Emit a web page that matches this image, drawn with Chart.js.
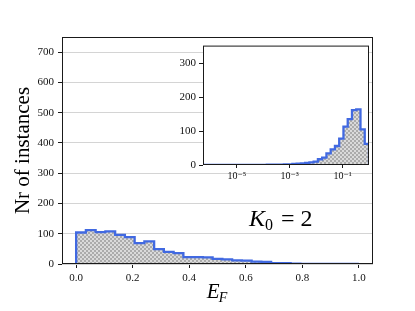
<!DOCTYPE html>
<html><head><meta charset="utf-8">
<script src="https://cdn.jsdelivr.net/npm/chart.js@4.4.1/dist/chart.umd.min.js"></script>
<style>
html,body{margin:0;padding:0;background:#fff;}
#wrap{position:relative;width:415px;height:311px;overflow:hidden;}
#main{position:absolute;left:0;top:0;}
#inset{position:absolute;left:170px;top:36px;}
</style></head><body>
<div id="wrap">
<canvas id="main" width="415" height="311"></canvas>
<canvas id="inset" width="205" height="154"></canvas>
</div>
<script>
// ---- data ----
const mainBinCount = 29;
const mainBinStart = 0.0;
const mainBinEnd = 1.0;
const mainCounts = [104,112,105,108,96,89,69,75,49,40,36,23,23,22,17,15,12,11,8,7,3,3,1,0,0,0,0,0,0];
const mainXTicks = [0.0,0.2,0.4,0.6,0.8,1.0];
const mainXTickLabels = ['0.0','0.2','0.4','0.6','0.8','1.0'];
const mainYTicks = [0,100,200,300,400,500,600,700];
const mainYTickLabels = ['0','100','200','300','400','500','600','700'];

const insetLogStart = -6.28;
const insetLogEnd = 0.0;
const insetCounts = [0,0,0,0,0,0,0,0,0,0,0,0,0,0,0,1,1,1,1,2,2,3,4,5,6,8,10,17,22,34,46,56,78,113,135,162,164,105,62];
const insetXTicks = [1e-5,1e-3,1e-1];
const insetXTickLabels = ['10\u207B\u2075','10\u207B\u00B3','10\u207B\u00B9'];
const insetYTicks = [0,100,200,300];
const insetYTickLabels = ['0','100','200','300'];

// ---- helpers ----
function stepPoints(edges, counts){
  const pts=[{x:edges[0],y:0}];
  counts.forEach((c,i)=>pts.push({x:edges[i],y:c}));
  pts.push({x:edges[counts.length],y:counts[counts.length-1]});
  pts.push({x:edges[counts.length],y:0});
  return pts;
}
function makePattern(){
  const c=document.createElement('canvas'); c.width=4; c.height=4;
  const g=c.getContext('2d');
  g.fillStyle='#dadada'; g.fillRect(0,0,4,4);
  g.fillStyle='#ababab'; g.fillRect(0,0,2,2); g.fillRect(2,2,2,2);
  return g.createPattern(c,'repeat');
}
const pattern = makePattern();
const blue = '#4169e1';
const serif = '"Liberation Serif", "DejaVu Serif", serif';

const mainEdges = [];
for(let i=0;i<=mainBinCount;i++) mainEdges.push(mainBinStart+(mainBinEnd-mainBinStart)*i/mainBinCount);
const insetEdges = [];
for(let i=0;i<=insetCounts.length;i++) insetEdges.push(Math.pow(10, insetLogStart+(insetLogEnd-insetLogStart)*i/insetCounts.length));

const frame = {
  id:'frame',
  beforeDraw(chart, args, opts){
    if(opts.fillArea){
      const a=chart.chartArea, ctx=chart.ctx;
      ctx.save(); ctx.fillStyle='#ffffff';
      ctx.fillRect(a.left,a.top,a.right-a.left,a.bottom-a.top); ctx.restore();
    }
  },
  afterDatasetsDraw(chart){
    const a=chart.chartArea, ctx=chart.ctx;
    ctx.save(); ctx.strokeStyle='#1a1a1a'; ctx.lineWidth=1;
    ctx.strokeRect(a.left+0.5,a.top+0.5,a.right-a.left-1,a.bottom-a.top-1);
    ctx.restore();
  }
};

const labelsPlugin = {
  id:'mathLabels',
  afterDraw(chart){
    const ctx=chart.ctx;
    ctx.save(); ctx.fillStyle='#000'; ctx.textBaseline='alphabetic';
    // x-axis label E_F
    ctx.font='italic 21px '+serif;
    const ew=ctx.measureText('E').width;
    ctx.font='italic 14px '+serif;
    const fw=ctx.measureText('F').width;
    const cx=(chart.chartArea.left+chart.chartArea.right)/2;
    let x0=cx-(ew+fw)/2;
    ctx.font='italic 21px '+serif; ctx.fillText('E',x0,298);
    ctx.font='italic 14px '+serif; ctx.fillText('F',x0+ew-1,302);
    // K_0 = 2
    let x=249;
    ctx.font='italic 24px '+serif; ctx.fillText('K',x,226); x+=ctx.measureText('K').width;
    ctx.font='16px '+serif; ctx.fillText('0',x,230); x+=ctx.measureText('0').width;
    ctx.font='24px '+serif; ctx.fillText(' = 2',x+2,226);
    ctx.restore();
  }
};

new Chart(document.getElementById('main'),{
  type:'line',
  data:{datasets:[{
    data:stepPoints(mainEdges,mainCounts),
    stepped:'before', borderColor:blue, borderWidth:2.3, pointRadius:0,
    fill:'origin', backgroundColor:pattern, tension:0
  }]},
  options:{
    responsive:false, animation:false, devicePixelRatio:1,
    layout:{padding:{left:0,top:37,right:42,bottom:0}},
    plugins:{legend:{display:false},tooltip:{enabled:false},frame:{}},
    scales:{
      x:{type:'linear',min:-0.05,max:1.05,
        afterBuildTicks:s=>{s.ticks=mainXTicks.map(v=>({value:v}));},
        afterFit:s=>{s.height=47;},
        grid:{drawOnChartArea:false,drawTicks:true,tickLength:4,tickColor:'#1a1a1a'},
        border:{display:false},
        ticks:{padding:4,color:'#111',font:{family:serif,size:11},maxRotation:0,
          callback:(v,i)=>mainXTickLabels[i]}
      },
      y:{type:'linear',min:0,max:750,
        afterBuildTicks:s=>{s.ticks=mainYTicks.map(v=>({value:v}));},
        afterFit:s=>{s.width=62;},
        grid:{color:'#d4d4d4',lineWidth:1,drawTicks:true,tickLength:4,tickColor:'#1a1a1a'},
        border:{display:false},
        ticks:{padding:4,color:'#111',font:{family:serif,size:11},
          callback:(v,i)=>mainYTickLabels[i]},
        title:{display:true,text:'Nr of instances',color:'#000',font:{family:serif,size:21},padding:{top:11,bottom:0}}
      }
    }
  },
  plugins:[frame,labelsPlugin]
});

new Chart(document.getElementById('inset'),{
  type:'line',
  data:{datasets:[{
    data:stepPoints(insetEdges,insetCounts),
    stepped:'before', borderColor:blue, borderWidth:2.3, pointRadius:0,
    fill:'origin', backgroundColor:pattern, tension:0
  }]},
  options:{
    responsive:false, animation:false, devicePixelRatio:1,
    layout:{padding:{left:0,top:5,right:6,bottom:0}},
    plugins:{legend:{display:false},tooltip:{enabled:false},frame:{fillArea:true}},
    scales:{
      x:{type:'logarithmic',min:Math.pow(10,insetLogStart),max:1,
        afterBuildTicks:s=>{s.ticks=insetXTicks.map(v=>({value:v,major:true}));},
        afterFit:s=>{s.height=25;},
        grid:{drawOnChartArea:false,drawTicks:true,tickLength:3,tickColor:'#1a1a1a'},
        border:{display:false},
        ticks:{padding:2,color:'#111',font:{family:serif,size:10},maxRotation:0,autoSkip:false,
          callback:(v,i)=>insetXTickLabels[i]}
      },
      y:{type:'linear',min:0,max:352,
        afterBuildTicks:s=>{s.ticks=insetYTicks.map(v=>({value:v}));},
        afterFit:s=>{s.width=33;},
        grid:{drawOnChartArea:false,drawTicks:true,tickLength:4,tickColor:'#1a1a1a'},
        border:{display:false},
        ticks:{padding:3,color:'#111',font:{family:serif,size:11},
          callback:(v,i)=>insetYTickLabels[i]}
      }
    }
  },
  plugins:[frame]
});
</script>
</body></html>
